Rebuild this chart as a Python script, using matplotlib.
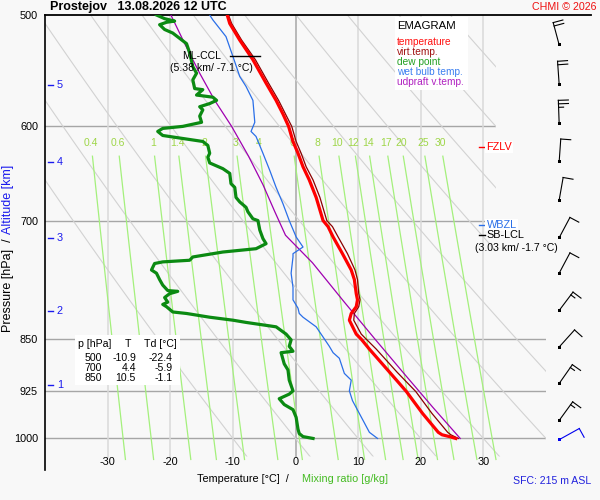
import numpy as np
import matplotlib
matplotlib.use("Agg")
import matplotlib.pyplot as plt
from matplotlib.lines import Line2D
from matplotlib.patches import Rectangle, Polygon
from matplotlib.ticker import NullLocator

plt.rcParams["font.family"] = ["Liberation Sans", "DejaVu Sans"]

W, H = 600, 500

# sounding (hPa / degC)
temp_p = [1000, 997, 994, 990, 960, 926, 897, 864, 850, 843, 824, 815, 806, 797, 789, 771, 759, 739,
          719, 707, 700, 674, 655, 641, 627, 615, 600, 588, 575, 559, 538, 521, 507, 500]
temp_t = [25.6, 24.6, 23.4, 22.8, 20.3, 17.7, 15.0, 11.8, 10.5, 9.7, 8.6, 8.9, 9.7, 9.9, 9.7, 9.4, 8.9, 7.5,
          6.0, 5.2, 4.4, 3.3, 2.2, 1.2, 0.4, -0.4, -1.1, -2.0, -3.1, -4.7, -6.8, -8.9, -10.5, -10.9]

virt_p = [1000, 994, 990, 960, 926, 897, 864, 850, 843, 824, 815, 806, 797, 789, 771, 759, 739,
          719, 707, 700, 674, 655, 641, 627, 615, 600, 588, 575, 559, 538, 521, 507, 500]
virt_t = [26.0, 24.8, 24.3, 21.8, 19.2, 16.2, 12.9, 11.3, 10.5, 9.3, 9.4, 10.1, 10.3, 10.1, 9.9, 9.5, 8.3,
          6.8, 5.9, 5.0, 3.9, 2.8, 1.7, 0.9, 0.1, -0.6, -1.6, -2.7, -4.3, -6.4, -8.6, -10.2, -10.7]

dew_p = [1000, 997, 992, 985, 966, 954, 946, 937, 930, 925, 909, 894, 885, 869, 867, 860, 851, 843,
         833, 831, 827, 824, 820, 815, 813, 806, 803, 800, 794, 789, 786, 785, 778, 771, 763, 759,
         751, 749, 747, 743, 737, 733, 727, 721, 711, 700, 698, 690, 685, 679, 674, 663, 659, 648,
         643, 637, 631, 627, 619, 615, 612, 609, 605, 602, 600, 596, 590, 584, 581, 578, 575, 572,
         570, 565, 564, 556, 550, 544, 532, 524, 515, 512, 508, 506, 505, 503, 500]
dew_t = [2.8, 1.2, 0.6, 0.4, 0.1, -0.4, -1.8, -2.6, -1.0, -0.4, -1.0, -1.2, -1.8, -2.3, -0.4, -1.0, -0.7, -1.5,
         -3.1, -4.7, -7.9, -10.0, -13.7, -17.4, -19.6, -20.6, -21.2, -20.4, -20.9, -20.1, -18.8, -20.4, -21.2, -21.7, -22.2, -23.0,
         -22.5, -21.2, -16.9, -16.4, -11.6, -6.3, -4.7, -5.2, -5.7, -6.0, -6.8, -7.6, -7.9, -8.9, -9.5, -9.7, -10.3, -10.5,
         -11.6, -13.7, -14.0, -13.7, -14.0, -14.8, -18.0, -21.2, -22.0, -21.2, -18.0, -15.0, -15.3, -14.8, -15.3, -13.7, -12.6, -13.2,
         -15.8, -14.8, -16.1, -16.4, -15.8, -16.4, -16.9, -17.4, -19.6, -20.9, -21.7, -20.6, -19.3, -20.9, -22.2]

wet_p = [1000, 990, 960, 940, 925, 909, 899, 877, 869, 860, 847, 833, 820, 815, 808, 797, 781, 763,
         743, 739, 731, 719, 700, 681, 663, 645, 627, 610, 605, 596, 575, 562, 553, 535, 518, 504, 500]
wet_t = [13.1, 11.8, 10.2, 9.1, 8.6, 8.9, 7.8, 7.0, 6.0, 5.4, 4.4, 3.3, 1.2, 0.6, 0.4, -0.4, -0.4, -0.7,
         -0.4, -0.4, 1.2, 0.1, -1.0, -2.0, -3.1, -4.1, -5.2, -6.3, -7.1, -6.5, -6.8, -7.9, -8.9, -10.0, -11.1, -13.2, -13.7]

updraft_p = [1000, 950, 900, 850, 800, 750, 717, 690, 660, 630, 600, 575, 550, 525, 500]
updraft_t = [26.3, 21.9, 17.4, 12.7, 7.8, 2.7, -1.6, -3.3, -5.2, -7.5, -10.2, -12.9, -15.3, -17.6, -19.9]

# diagram background
isobars = [600, 700, 850, 925, 1000]
isotherms = [-30, -20, -10, 0, 10, 20, 30]
mixing_ratios = [0.4, 0.6, 1, 1.4, 2, 3, 4, 6, 8, 10, 12, 14, 17, 20, 25, 30]
mixing_labels = ["0.4", "0.6", "1", "1.4", "2", "3", "4", "6", "8", "10", "12", "14", "17", "20", "25", "30"]
theta_c = [-10, 0, 10, 20, 30, 40, 50, 60, 70, 80, 90]

alt_km = [1, 2, 3, 4, 5]
alt_p = [916, 812, 720, 636, 561]

wind_p = [525, 560, 597, 636, 677, 720, 763, 811, 861, 914, 971, 1002]
wind_dir = [345, 356, 358, 4, 10, 28, 28, 37, 42, 35, 36, 61]
wind_kt = [20, 20, 25, 10, 10, 10, 10, 15, 10, 15, 15, 10]

table_p = [500, 700, 850]
table_t = [-10.9, 4.4, 10.5]
table_td = [-22.4, -5.9, -1.1]

fzlv_p = 621
wbzl_p = 705
lcl_p = 717
ccl_p = 535


def fx(x):
    return x / W


def fy(y):
    return 1 - y / H


def wind_barb(fig, x0, y0, direction, speed, color):
    """Staff towards the wind origin, barbs on the right side (pixel units)."""
    a = np.deg2rad(direction)
    s = np.array([np.sin(a), np.cos(a)])
    perp = np.array([s[1], -s[0]])
    base = np.array([x0, y0])
    tip = base + 23 * s
    segs = [(base, tip)]
    full, rest = divmod(int(round(speed)), 10)
    pos = 0.0
    for _ in range(full):
        p0 = tip - pos * s
        segs.append((p0, p0 + 10 * perp))
        pos += 3.5
    if rest >= 5:
        p0 = tip - pos * s
        segs.append((p0, p0 + 5 * perp))
    for a0, a1 in segs:
        fig.add_artist(Line2D([a0[0] / W, a1[0] / W], [a0[1] / H, a1[1] / H],
                              transform=fig.transFigure, color=color, lw=0.8))
    fig.add_artist(Rectangle(((x0 - 1.5) / W, (y0 - 1.5) / H), 3 / W, 3 / H,
                             transform=fig.transFigure, fc=color, ec="none"))


fig = plt.figure(figsize=(6, 5), dpi=100, facecolor="#f8f8f8")
ax = fig.add_axes([fx(45), fy(470), 501 / W, 455 / H])
ax.set_facecolor("none")
ax.set_yscale("log")
ax.set_ylim(1053, 500)
ax.set_xlim(-40, 40)
for s in ("right", "bottom", "top"):
    ax.spines[s].set_visible(False)
ax.spines["left"].set_linewidth(1.2)
ax.axhline(500, xmin=0, xmax=1.09, color="black", lw=1.3, clip_on=False)

ax.set_yticks([500] + isobars)
ax.set_yticklabels([str(p) for p in [500] + isobars])
ax.yaxis.set_minor_locator(NullLocator())
ax.set_xticks([])
ax.tick_params(axis="y", length=0, pad=5, labelsize=7.8)

# clip region of the diagram
clip = Polygon([(-40, 500), (32, 500), (32, 812), (34.5, 832), (40, 832), (40, 1030), (-40, 1030)],
               closed=True, transform=ax.transData, fc="none", ec="none")

for p in isobars:
    ln, = ax.plot([-40, 40], [p, p], color="#a6a6a6", lw=1.0, zorder=1)
    ln.set_clip_path(clip)

for t in isotherms:
    ax.plot([t, t], [500, 1030], color="#a6a6a6" if t == 0 else "#d9d9d9", lw=1.1, zorder=1)
    ax.text(t, 1040, str(t), ha="center", va="center", fontsize=7.8)

pp = np.geomspace(500, 1030, 80)
for th in theta_c:
    ln, = ax.plot((th + 273.15) * (pp / 1000) ** 0.286 - 273.15, pp, color="#d2d2d2", lw=0.8, zorder=1)
    ln.set_clip_path(clip)

pm = np.geomspace(630, 1035, 40)
for w, lab in zip(mixing_ratios, mixing_labels):
    for pr, draw in ((pm, True), (np.array([617.0]), False)):
        e = w * pr / (622 + w)
        a = np.log(e / 6.112)
        td = 243.5 * a / (17.67 - a)
        if draw:
            ax.plot(td, pr, color="#a4f07c", lw=0.9, zorder=2)
        else:
            ax.text(td[0], pr[0], lab, ha="center", va="center", fontsize=7.5, color="#9ed648")

# sounding curves
ax.plot(updraft_t, updraft_p, color="#a000b0", lw=0.9, zorder=4)
ax.plot(wet_t, wet_p, color="#2a6fe8", lw=0.9, zorder=4)
ax.plot(virt_t, virt_p, color="#8b0000", lw=0.9, zorder=4)
ax.plot(temp_t, temp_p, color="#ff0000", lw=2.3, zorder=5)
ax.plot(dew_t, dew_p, color="#0b8a12", lw=2.3, zorder=5)

# altitude scale
for km, p in zip(alt_km, alt_p):
    ax.plot([-39.5, -38.7], [p, p], color="#1a1aee", lw=1.0, clip_on=False)
    ax.text(-38.1, p, str(km), ha="left", va="center", fontsize=7.8, color="#1a1aee")

# levels
ax.plot([-10.5, -5.7], [ccl_p, ccl_p], color="black", lw=1.0, zorder=6)
ax.text(-11.8, ccl_p, "ML-CCL", ha="right", va="center", fontsize=7.6, zorder=6)
ax.text(-13.4, 545, "(5.38 km/ -7.1 °C)", ha="center", va="center", fontsize=7.6, zorder=6)

box = dict(fc="white", ec="none", pad=0.8)
ax.plot([29.3, 30.3], [fzlv_p, fzlv_p], color="red", lw=1.0, clip_on=False, zorder=6)
ax.text(30.5, fzlv_p, "FZLV", ha="left", va="center", fontsize=7.8, color="red", bbox=box, zorder=6)
ax.plot([29.3, 30.3], [wbzl_p, wbzl_p], color="#2a6fe8", lw=1.0, clip_on=False, zorder=6)
ax.text(30.5, wbzl_p, "WBZL", ha="left", va="center", fontsize=7.8, color="#2a6fe8", bbox=box, zorder=6)
ax.plot([29.3, 30.3], [lcl_p, lcl_p], color="black", lw=1.0, clip_on=False, zorder=6)
ax.text(30.5, lcl_p, "SB-LCL", ha="left", va="center", fontsize=7.8, zorder=6)
ax.text(28.7, 732, "(3.03 km/ -1.7 °C)", ha="left", va="center", fontsize=7.6, zorder=6)

# wind barbs, placed through the pressure axis
for i, (p, d, k) in enumerate(zip(wind_p, wind_dir, wind_kt)):
    bx, by = ax.transData.transform((42.1, p))
    col = "#0000ee" if i == len(wind_p) - 1 else "black"
    wind_barb(fig, bx, by, d, k, col)

# legend box
fig.patches.append(Rectangle((fx(395), fy(90)), 73 / W, 73 / H, transform=fig.transFigure,
                             fc="white", ec="none", zorder=1))
fig.text(fx(397), fy(26), "EMAGRAM", ha="left", va="center", fontsize=8.2)
legend_items = [("temperature", "#ff1010"), ("virt.temp.", "#a01010"), ("dew point", "#22a022"),
                ("wet bulb temp.", "#3a7ef0"), ("udpraft v.temp.", "#b020c0")]
for i, (lab, c) in enumerate(legend_items):
    fig.text(fx(397), fy(42 + 10 * i), lab, ha="left", va="center", fontsize=7.3, color=c)

# table
fig.patches.append(Rectangle((fx(75), fy(385)), 105 / W, 50 / H, transform=fig.transFigure,
                             fc="white", ec="none", zorder=1))
fig.text(fx(78), fy(344), "p [hPa]", ha="left", va="center", fontsize=7.6)
fig.text(fx(127.5), fy(344), "T", ha="center", va="center", fontsize=7.6)
fig.text(fx(144), fy(344), "Td [°C]", ha="left", va="center", fontsize=7.6)
for i, (p, t, td) in enumerate(zip(table_p, table_t, table_td)):
    y = fy(358 + 10 * i)
    fig.text(fx(102), y, str(p), ha="right", va="center", fontsize=7.6)
    fig.text(fx(136), y, f"{t:.1f}", ha="right", va="center", fontsize=7.6)
    fig.text(fx(173), y, f"{td:.1f}", ha="right", va="center", fontsize=7.6)

# titles and labels
fig.text(fx(50), fy(7), "Prostejov   13.08.2026 12 UTC", ha="left", va="center",
         fontsize=9, fontweight="bold")
fig.text(fx(596), fy(7), "CHMI © 2026", ha="right", va="center", fontsize=7.7, color="#ee1111")
fig.text(fx(197), fy(479), "Temperature [°C]  /", ha="left", va="center", fontsize=7.8)
fig.text(fx(302), fy(479), "Mixing ratio [g/kg]", ha="left", va="center", fontsize=7.8, color="#44bb22")
fig.text(fx(591), fy(481), "SFC: 215 m ASL", ha="right", va="center", fontsize=7.6, color="#2222dd")
fig.text(fx(8), fy(238), "Pressure [hPa]  /", rotation=90, rotation_mode="anchor",
         ha="right", va="center", fontsize=9)
fig.text(fx(8), fy(234), "Altitude [km]", rotation=90, rotation_mode="anchor",
         ha="left", va="center", fontsize=9, color="#1a1aee")

fig.savefig("out.png", dpi=100, facecolor=fig.get_facecolor())
